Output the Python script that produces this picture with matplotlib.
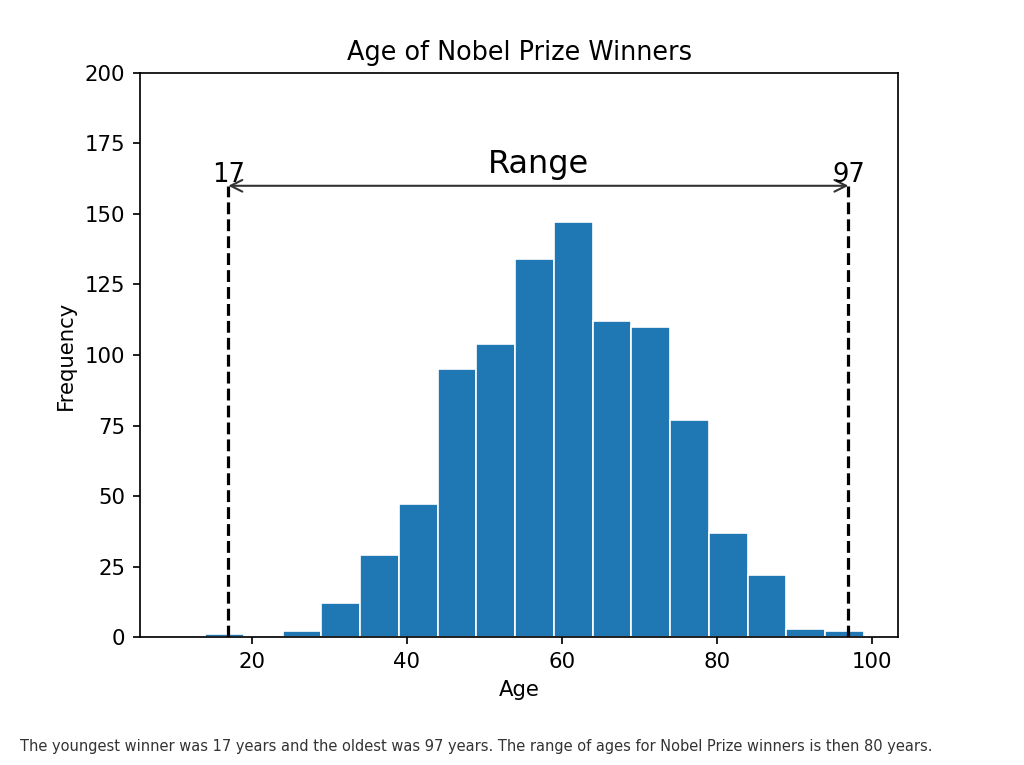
import numpy as np
import matplotlib
matplotlib.use("Agg")
import matplotlib.pyplot as plt

bin_edges = [14, 19, 24, 29, 34, 39, 44, 49, 54, 59, 64, 69, 74, 79, 84, 89, 94, 99]
counts = [1, 0, 2, 12, 29, 47, 95, 104, 134, 147, 112, 110, 77, 37, 22, 3, 2]
youngest = 17
oldest = 97
range_top = 160
x_ticks = [20, 40, 60, 80, 100]
y_ticks = [0, 25, 50, 75, 100, 125, 150, 175, 200]
caption = ("The youngest winner was 17 years and the oldest was 97 years. "
           "The range of ages for Nobel Prize winners is then 80 years.")

S = 1.53
fig = plt.figure(figsize=(10.24, 7.65), dpi=100)
ax = fig.add_axes([0.1367, 0.1673, 0.7403, 0.7373])

ax.hist(bin_edges[:-1], bins=bin_edges, weights=counts, color="#1f77b4",
        edgecolor="white", linewidth=1.2)

ax.vlines([youngest, oldest], 0, range_top, colors="black",
          linestyles="--", linewidth=2.3)
ax.annotate("", xy=(youngest, range_top), xytext=(oldest, range_top),
            arrowprops=dict(arrowstyle="<->", lw=1.5, color="#333333",
                            shrinkA=0, shrinkB=0, mutation_scale=21))
ax.text(youngest, range_top + 1.5, str(youngest), ha="center", va="baseline",
        fontsize=18.5)
ax.text(oldest, range_top + 1.5, str(oldest), ha="center", va="baseline",
        fontsize=18.5)
ax.text((youngest + oldest) / 2, range_top + 4.7, "Range", ha="center",
        va="baseline", fontsize=23)

ax.set_xlim(5.6, 103.4)
ax.set_ylim(0, 200)
ax.set_xticks(x_ticks)
ax.set_yticks(y_ticks)
ax.tick_params(labelsize=10 * S, width=0.8 * S, length=3.5 * S, pad=3.5 * S)
for sp in ax.spines.values():
    sp.set_linewidth(0.8 * S)

ax.set_title("Age of Nobel Prize Winners", fontsize=12 * S, pad=6 * S)
ax.set_xlabel("Age", fontsize=10 * S, labelpad=4 * S)
ax.set_ylabel("Frequency", fontsize=10 * S, labelpad=4 * S)

fig.text(20 / 1024, 1 - 746 / 765, caption, fontsize=10.5, color="#333333",
         va="center", ha="left")

fig.savefig("out.png", dpi=100)
